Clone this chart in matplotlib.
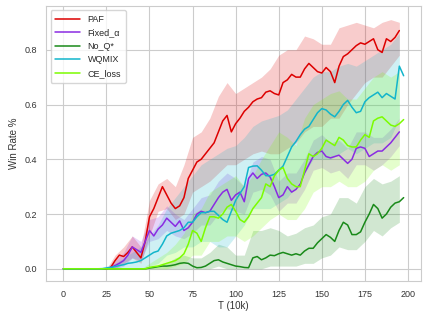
import numpy as np
import matplotlib
matplotlib.use("Agg")
import matplotlib.pyplot as plt
import seaborn as sns

sns.set_style("whitegrid")
plt.rcParams['font.family'] = ['Liberation Sans', 'DejaVu Sans']

STEP = 2.5
BSTEP = 5.0

labels = ["PAF", "Fixed_\u03b1", "No_Q*", "WQMIX", "CE_loss"]
colors = ["#dd0000", "#8a2be2", "#1a8a1a", "#12b5cb", "#7cfc00"]

paf_mean = [0]*11 + [0.005, 0.03, 0.05, 0.045, 0.06, 0.08, 0.06, 0.04, 0.10, 0.19, 0.22, 0.26, 0.30, 0.27,
    0.24, 0.22, 0.23, 0.26, 0.33, 0.36, 0.39, 0.40, 0.42, 0.44, 0.46, 0.50, 0.54, 0.56, 0.50, 0.53,
    0.55, 0.575, 0.59, 0.61, 0.62, 0.625, 0.645, 0.65, 0.64, 0.635, 0.68, 0.69, 0.71, 0.70, 0.70,
    0.73, 0.75, 0.735, 0.72, 0.715, 0.735, 0.72, 0.68, 0.74, 0.775, 0.785, 0.80, 0.815, 0.825, 0.82,
    0.83, 0.84, 0.80, 0.79, 0.84, 0.83, 0.845, 0.87]
fixed_mean = [0]*11 + [0.005, 0.012, 0.02, 0.03, 0.05, 0.08, 0.07, 0.06, 0.10, 0.14, 0.12, 0.145, 0.16, 0.185,
    0.17, 0.155, 0.175, 0.14, 0.15, 0.17, 0.20, 0.21, 0.205, 0.21, 0.235, 0.26, 0.28, 0.29, 0.25, 0.27,
    0.28, 0.245, 0.33, 0.35, 0.33, 0.345, 0.35, 0.335, 0.30, 0.26, 0.27, 0.30, 0.28, 0.29, 0.31,
    0.35, 0.38, 0.41, 0.425, 0.43, 0.41, 0.405, 0.41, 0.415, 0.40, 0.385, 0.40, 0.44, 0.445, 0.44,
    0.41, 0.42, 0.43, 0.43, 0.445, 0.46, 0.48, 0.50]
noq_mean = [0]*20 + [0.003, 0.005, 0.008, 0.01, 0.01, 0.012, 0.015, 0.02, 0.022, 0.02, 0.01, 0.004, 0.005,
    0.01, 0.02, 0.03, 0.033, 0.025, 0.02, 0.015, 0.01, 0.008, 0.005, 0.004, 0.04, 0.045, 0.033, 0.04,
    0.05, 0.048, 0.055, 0.06, 0.055, 0.05, 0.055, 0.05, 0.065, 0.075, 0.075, 0.095, 0.11, 0.125, 0.115,
    0.10, 0.14, 0.17, 0.16, 0.125, 0.125, 0.135, 0.17, 0.20, 0.235, 0.22, 0.185, 0.20, 0.225, 0.24,
    0.245, 0.26]
wqmix_mean = [0]*10 + [0.003, 0.005, 0.008, 0.012, 0.015, 0.02, 0.022, 0.025, 0.03, 0.04, 0.05, 0.06, 0.065,
    0.09, 0.12, 0.13, 0.135, 0.14, 0.15, 0.17, 0.17, 0.19, 0.205, 0.205, 0.21, 0.21, 0.195, 0.18, 0.17,
    0.21, 0.25, 0.275, 0.30, 0.37, 0.375, 0.376, 0.36, 0.34, 0.34, 0.345, 0.36, 0.375, 0.41, 0.445,
    0.465, 0.49, 0.51, 0.52, 0.545, 0.57, 0.585, 0.58, 0.565, 0.555, 0.575, 0.60, 0.615, 0.59, 0.57,
    0.575, 0.61, 0.625, 0.635, 0.645, 0.625, 0.64, 0.63, 0.62, 0.74, 0.705]
ce_mean = [0]*20 + [0.005, 0.008, 0.01, 0.015, 0.02, 0.025, 0.03, 0.04, 0.055, 0.09, 0.14, 0.13, 0.10,
    0.15, 0.19, 0.19, 0.185, 0.20, 0.225, 0.235, 0.21, 0.18, 0.17, 0.19, 0.22, 0.24, 0.26, 0.31, 0.30,
    0.34, 0.36, 0.37, 0.33, 0.31, 0.30, 0.30, 0.36, 0.42, 0.41, 0.42, 0.44, 0.47, 0.46, 0.45, 0.48,
    0.47, 0.45, 0.445, 0.445, 0.47, 0.49, 0.48, 0.54, 0.55, 0.555, 0.54, 0.525, 0.52, 0.53, 0.545]

# band edges every 5 steps (x = 0, 5, ..., 195)
paf_lo = [0]*6 + [0.0, 0.02, 0.04, 0.02, 0.12, 0.21, 0.22, 0.18, 0.20, 0.28, 0.30, 0.32, 0.35, 0.38,
    0.38, 0.40, 0.42, 0.43, 0.42, 0.42, 0.44, 0.46, 0.50, 0.52, 0.52, 0.55, 0.55, 0.60, 0.64, 0.68,
    0.70, 0.70, 0.74, 0.78]
paf_hi = [0]*6 + [0.05, 0.08, 0.12, 0.08, 0.25, 0.31, 0.33, 0.30, 0.38, 0.48, 0.50, 0.55, 0.63, 0.68,
    0.64, 0.66, 0.68, 0.70, 0.73, 0.78, 0.80, 0.80, 0.85, 0.84, 0.82, 0.82, 0.88, 0.89, 0.90, 0.89,
    0.88, 0.90, 0.91, 0.90]
fixed_lo = [0]*6 + [0.0, 0.01, 0.04, 0.03, 0.10, 0.11, 0.14, 0.12, 0.11, 0.13, 0.16, 0.16, 0.20, 0.22,
    0.21, 0.20, 0.28, 0.29, 0.27, 0.21, 0.24, 0.24, 0.29, 0.36, 0.37, 0.35, 0.36, 0.33, 0.38, 0.38,
    0.36, 0.38, 0.41, 0.45]
fixed_hi = [0]*6 + [0.03, 0.06, 0.12, 0.10, 0.18, 0.19, 0.23, 0.20, 0.18, 0.22, 0.26, 0.27, 0.32, 0.35,
    0.33, 0.30, 0.39, 0.41, 0.40, 0.32, 0.35, 0.35, 0.40, 0.47, 0.49, 0.46, 0.47, 0.44, 0.50, 0.50,
    0.48, 0.48, 0.51, 0.55]
noq_lo = [0]*10 + [0.0, 0.0, 0.0, 0.0, 0.0, 0.0, 0.0, 0.0, 0.01, 0.0, 0.0, 0.0, 0.0, 0.0, 0.01, 0.01,
    0.01, 0.01, 0.02, 0.02, 0.04, 0.05, 0.08, 0.07, 0.07, 0.10, 0.14, 0.12, 0.15, 0.17]
noq_hi = [0]*10 + [0.01, 0.01, 0.02, 0.04, 0.05, 0.04, 0.04, 0.06, 0.09, 0.08, 0.05, 0.05, 0.14, 0.14,
    0.15, 0.14, 0.12, 0.13, 0.15, 0.16, 0.19, 0.20, 0.26, 0.26, 0.24, 0.30, 0.33, 0.31, 0.32, 0.34]
wqmix_lo = [0]*6 + [0.0, 0.0, 0.0, 0.0, 0.01, 0.02, 0.05, 0.06, 0.08, 0.08, 0.10, 0.10, 0.08, 0.08,
    0.12, 0.16, 0.22, 0.22, 0.22, 0.24, 0.26, 0.30, 0.35, 0.40, 0.40, 0.40, 0.42, 0.44, 0.42, 0.44,
    0.46, 0.46, 0.48, 0.55]
wqmix_hi = [0.005]*5 + [0.01, 0.02, 0.04, 0.06, 0.08, 0.12, 0.16, 0.22, 0.26, 0.30, 0.34, 0.38, 0.40,
    0.42, 0.44, 0.45, 0.48, 0.52, 0.54, 0.55, 0.56, 0.58, 0.62, 0.66, 0.70, 0.72, 0.72, 0.74, 0.75,
    0.74, 0.76, 0.78, 0.80, 0.82, 0.86]
ce_lo = [0]*10 + [0.0, 0.0, 0.0, 0.01, 0.02, 0.05, 0.05, 0.10, 0.10, 0.12, 0.12, 0.10, 0.12, 0.15,
    0.18, 0.20, 0.18, 0.18, 0.22, 0.28, 0.30, 0.30, 0.32, 0.30, 0.30, 0.32, 0.36, 0.38, 0.36, 0.38]
ce_hi = [0]*10 + [0.02, 0.04, 0.06, 0.09, 0.13, 0.20, 0.22, 0.28, 0.30, 0.32, 0.34, 0.30, 0.34, 0.40,
    0.45, 0.50, 0.48, 0.45, 0.55, 0.60, 0.62, 0.64, 0.65, 0.62, 0.62, 0.66, 0.70, 0.72, 0.70, 0.72]

means = [paf_mean, fixed_mean, noq_mean, wqmix_mean, ce_mean]
los = [paf_lo, fixed_lo, noq_lo, wqmix_lo, ce_lo]
his = [paf_hi, fixed_hi, noq_hi, wqmix_hi, ce_hi]

fig = plt.figure(figsize=(4.23, 3.11), dpi=100)
ax = fig.add_axes([0.109, 0.096, 0.886, 0.885])

for m, lo, hi, c, lab in zip(means, los, his, colors, labels):
    m = np.asarray(m, float)
    x = np.arange(len(m)) * STEP
    lo = np.asarray(lo, float)
    hi = np.asarray(hi, float)
    xb = np.arange(len(lo)) * BSTEP
    ax.fill_between(xb, lo, hi, color=c, alpha=0.2, linewidth=0)
    ax.plot(x, m, color=c, linewidth=1.1, label=lab)

ax.set_xlim(-10, 207.5)
ax.set_ylim(-0.045, 0.96)
ax.set_xticks(np.arange(0, 201, 25))
ax.set_yticks([0.0, 0.2, 0.4, 0.6, 0.8])
ax.tick_params(labelsize=6.5, colors="#333333", pad=3)
ax.set_xlabel("T (10k)", fontsize=7, color="#333333", labelpad=1)
ax.set_ylabel("Win Rate %", fontsize=7, color="#333333", labelpad=4)
for s in ax.spines.values():
    s.set_color("#cccccc")
ax.grid(color="#cccccc", linewidth=0.8)
leg = ax.legend(loc="upper left", fontsize=6.5, frameon=True, handlelength=2.8,
                borderpad=0.5, labelspacing=0.5)
leg.get_frame().set_edgecolor("#cccccc")

fig.savefig("out.png", dpi=100)
